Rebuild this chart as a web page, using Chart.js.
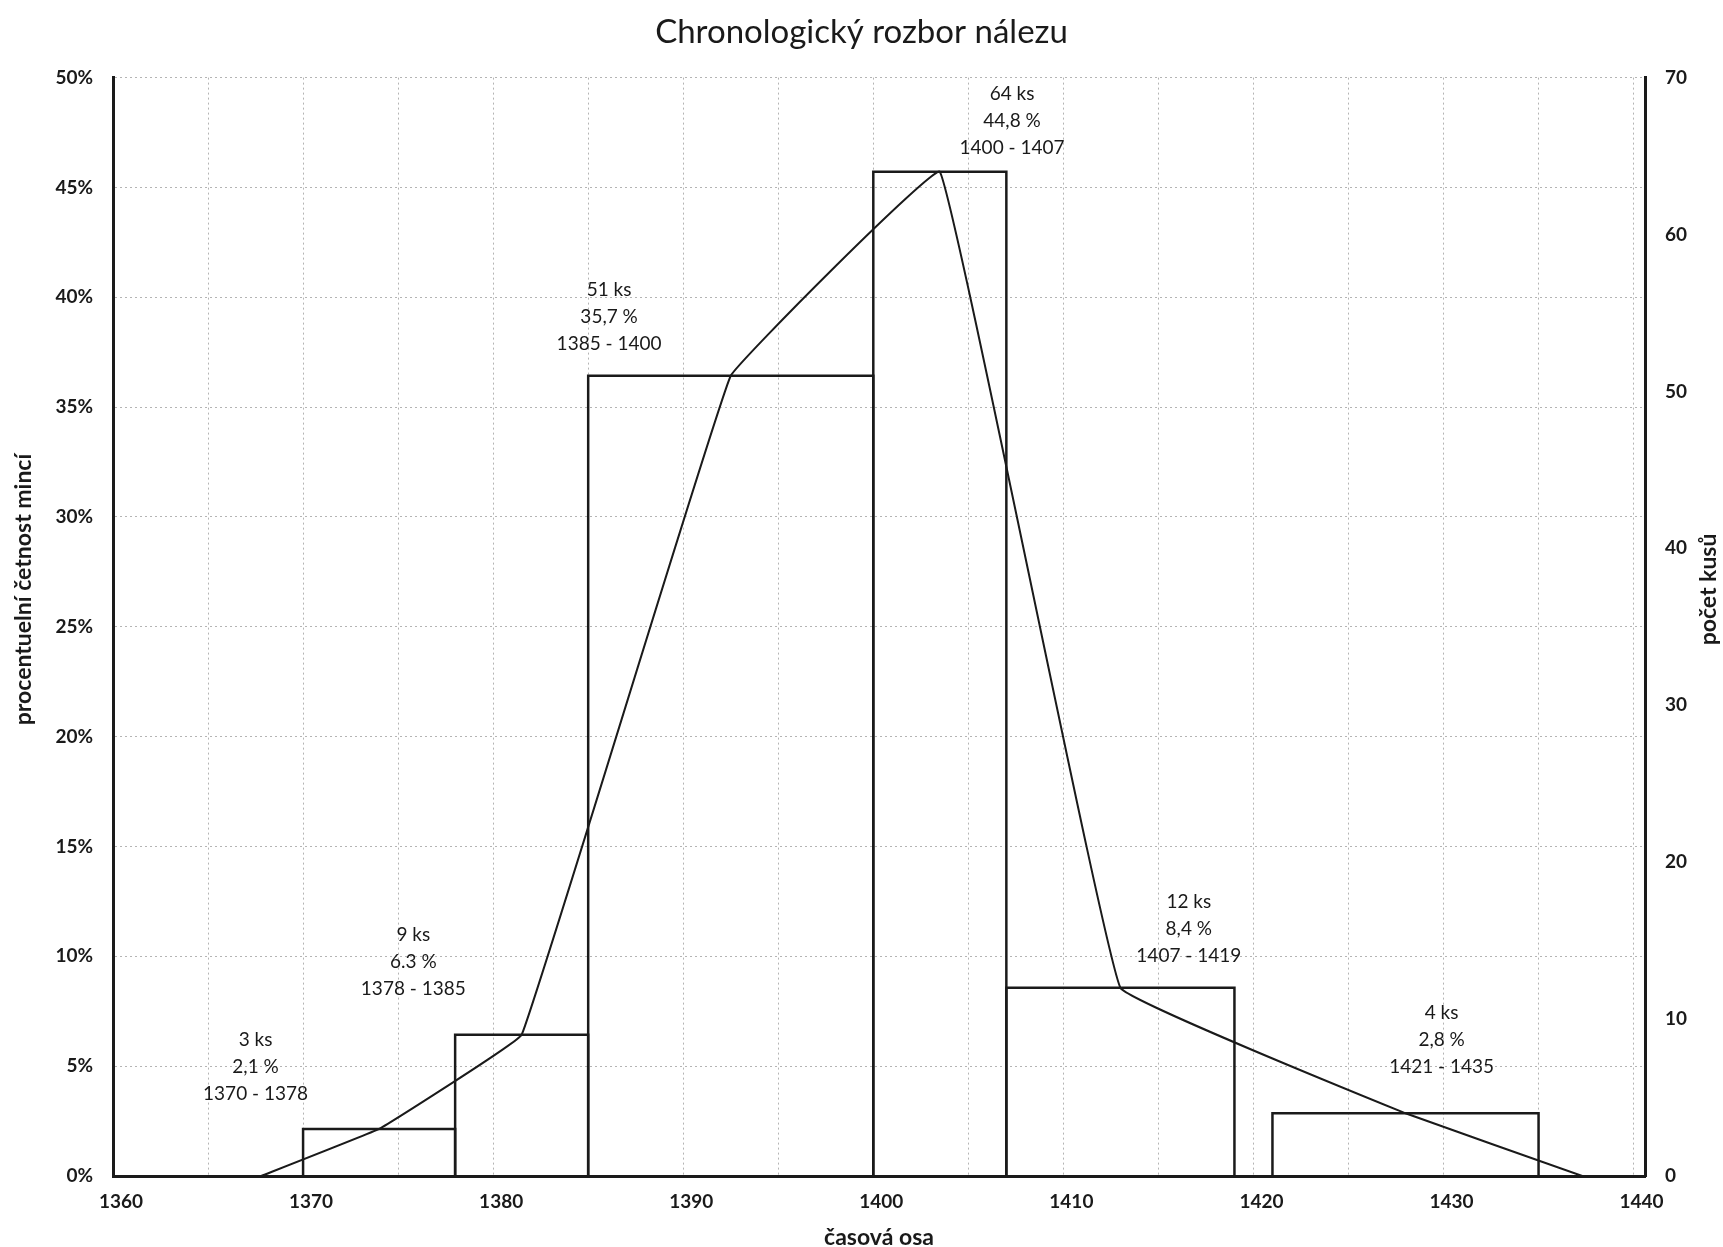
<!DOCTYPE html>
<html>
<head>
<meta charset="utf-8">
<script src="https://cdn.jsdelivr.net/npm/chart.js@4.4.1/dist/chart.umd.min.js"></script>
<style>
  html, body { margin: 0; padding: 0; background: #fff; }
  #wrap { width: 1723px; height: 1247px; }
</style>
</head>
<body>
<div id="wrap"><canvas id="chronoChart" width="1723" height="1247"></canvas></div>
<script>
// histogram bins (years) and coin counts
const binStart = [1370, 1378, 1385, 1400, 1407, 1421];
const binEnd = [1378, 1385, 1400, 1407, 1419, 1435];
const counts = [3, 9, 51, 64, 12, 4];
const percentLabels = ["2,1 %", "6.3 %", "35,7 %", "44,8 %", "8,4 %", "2,8 %"];
const rangeLabels = ["1370 - 1378", "1378 - 1385", "1385 - 1400", "1400 - 1407", "1407 - 1419", "1421 - 1435"];

// x gridlines every 5 years, labels every 10
const xTickValues = [1360, 1365, 1370, 1375, 1380, 1385, 1390, 1395, 1400,
  1405, 1410, 1415, 1420, 1425, 1430, 1435, 1440];

// frequency polygon runs out to zero at both ends
const polygonStart = 1367.8;
const polygonEnd = 1437.3;

// where the three-line labels sit (year, count of first line)
const labelAtYear = [1367.5, 1375.8, 1386.1, 1407.3, 1416.6, 1429.9];
const labelAtCount = [8.7, 15.35, 56.5, 68.95, 17.5, 10.4];

const FONT = "Lato, 'Open Sans', sans-serif";
const INK = "#1a1a1a";

const outlineSets = counts.map((c, i) => ({
  data: [
    { x: binStart[i], y: 0 },
    { x: binStart[i], y: c },
    { x: binEnd[i], y: c },
    { x: binEnd[i], y: 0 },
  ],
  yAxisID: "yCount",
  borderColor: INK,
  borderWidth: 2.5,
  pointRadius: 0,
  tension: 0,
  fill: false,
}));

const midpoints = binStart.map((s, i) => (s + binEnd[i]) / 2);
const polygonSet = {
  data: [{ x: polygonStart, y: 0 }]
    .concat(midpoints.map((m, i) => ({ x: m, y: counts[i] })))
    .concat([{ x: polygonEnd, y: 0 }]),
  yAxisID: "yCount",
  borderColor: INK,
  borderWidth: 2,
  pointRadius: 0,
  tension: 0.05,
  fill: false,
};

const binLabels = {
  id: "binLabels",
  afterDatasetsDraw(chart) {
    const { ctx, scales } = chart;
    ctx.save();
    ctx.fillStyle = INK;
    ctx.font = "19px " + FONT;
    ctx.textAlign = "center";
    ctx.textBaseline = "middle";
    counts.forEach((c, i) => {
      const x = scales.x.getPixelForValue(labelAtYear[i]);
      const y = scales.yCount.getPixelForValue(labelAtCount[i]);
      const lines = [c + " ks", percentLabels[i], rangeLabels[i]];
      lines.forEach((t, k) => ctx.fillText(t, x, y + k * 27));
    });
    ctx.restore();
  },
};

// both side titles read bottom to top and sit a bit above the middle
const sideTitles = {
  id: "sideTitles",
  afterDraw(chart) {
    const { ctx, scales } = chart;
    const midY = scales.yPct.getPixelForValue(26.7);
    const draw = (text, x) => {
      ctx.save();
      ctx.translate(x, midY);
      ctx.rotate(-Math.PI / 2);
      ctx.fillStyle = INK;
      ctx.font = "bold 23px " + FONT;
      ctx.textAlign = "center";
      ctx.textBaseline = "middle";
      ctx.fillText(text, 0, 0);
      ctx.restore();
    };
    draw("procentuelní četnost mincí", 24);
    draw("počet kusů", 1709);
  },
};

const gridLine = { color: "#b4b4b4", lineWidth: 1, drawTicks: false };
const axisBorder = { display: true, color: INK, width: 3, dash: [2, 3] };
const tickFont = { family: FONT, size: 19, weight: "bold" };

new Chart(document.getElementById("chronoChart"), {
  type: "line",
  data: { datasets: outlineSets.concat([polygonSet]) },
  options: {
    responsive: false,
    devicePixelRatio: 1,
    animation: false,
    parsing: false,
    layout: { padding: 0 },
    plugins: {
      legend: { display: false },
      tooltip: { enabled: false },
      title: {
        display: true,
        text: "Chronologický rozbor nálezu",
        color: INK,
        font: { family: FONT, size: 33, weight: "normal" },
        padding: { top: 13, bottom: 25 },
      },
    },
    scales: {
      x: {
        type: "linear",
        min: 1360,
        max: 1440.6,
        afterBuildTicks: (s) => { s.ticks = xTickValues.map((v) => ({ value: v })); },
        ticks: {
          color: INK,
          font: tickFont,
          padding: 14,
          labelOffset: 8,
          maxRotation: 0,
          autoSkip: false,
          callback: (v) => (v % 10 === 0 ? String(v) : ""),
        },
        grid: gridLine,
        border: axisBorder,
        title: {
          display: true,
          text: "časová osa",
          color: INK,
          font: { family: FONT, size: 23, weight: "bold", lineHeight: 0.8 },
          padding: { top: 0, bottom: 0 },
        },
        afterFit: (s) => { s.height = 71; },
      },
      yPct: {
        type: "linear",
        position: "left",
        min: 0,
        max: 50,
        ticks: {
          stepSize: 5,
          color: INK,
          font: tickFont,
          padding: 20,
          callback: (v) => v + "%",
        },
        grid: gridLine,
        border: axisBorder,
        afterFit: (s) => { s.width = 113; },
      },
      yCount: {
        type: "linear",
        position: "right",
        min: 0,
        max: 70,
        ticks: {
          stepSize: 10,
          color: INK,
          font: tickFont,
          padding: 20,
        },
        grid: { display: false, drawTicks: false },
        border: { display: true, color: INK, width: 3 },
        afterFit: (s) => { s.width = 78; },
      },
    },
  },
  plugins: [binLabels, sideTitles],
});
</script>
</body>
</html>
